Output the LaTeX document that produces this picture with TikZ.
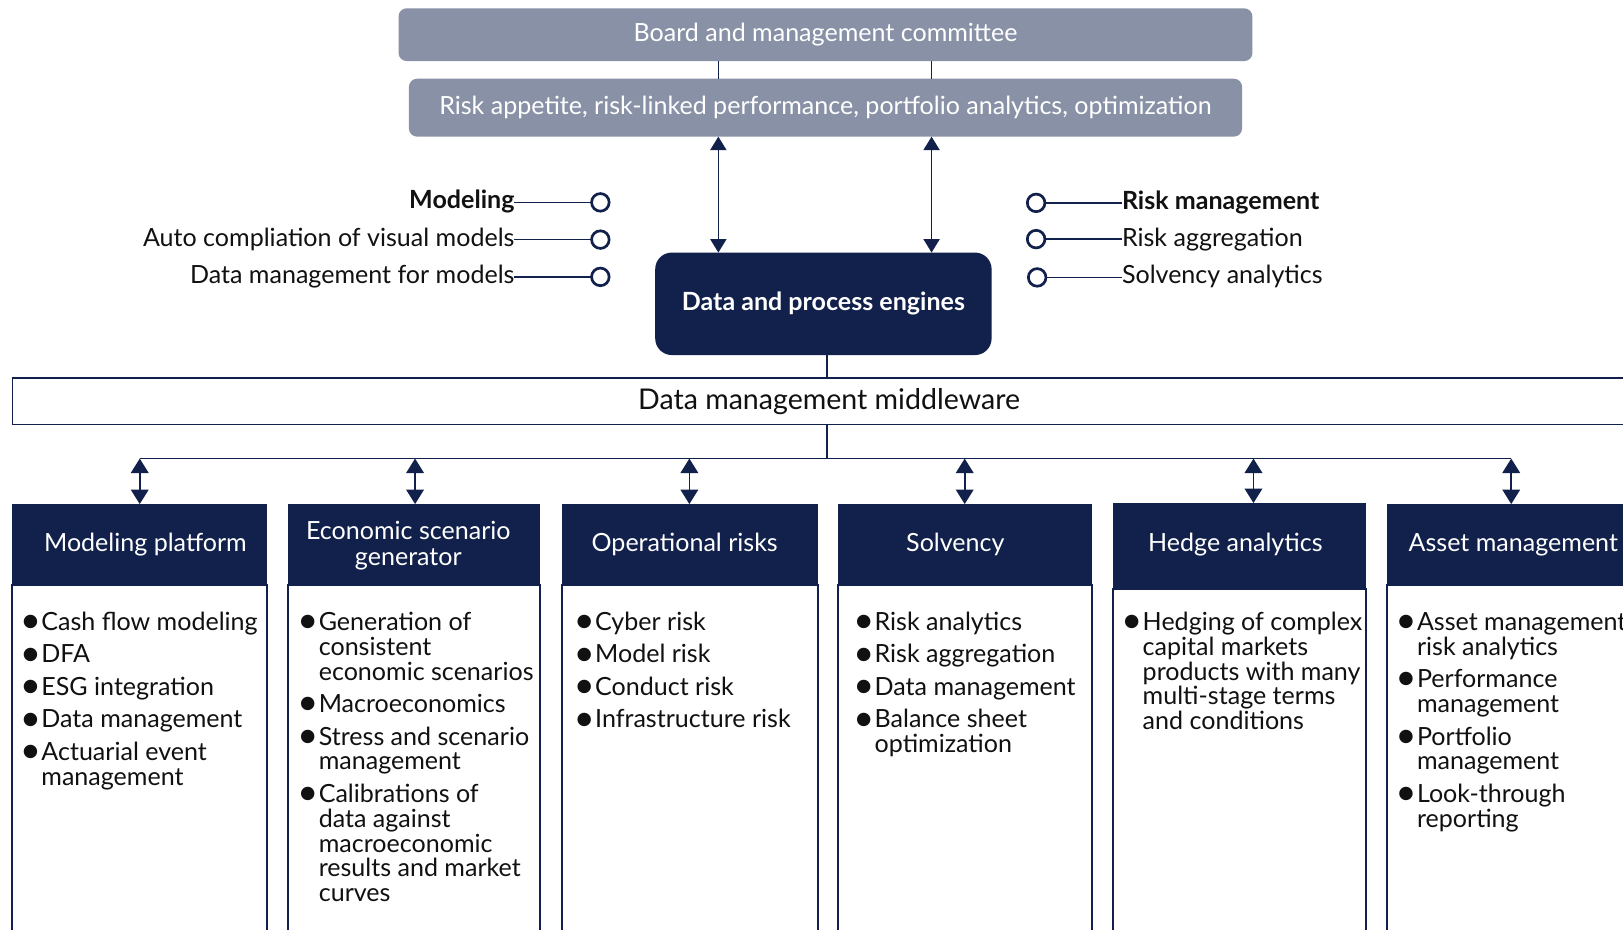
\documentclass[tikz,border=0pt]{standalone}
\usepackage{fontspec}
\setmainfont{Lato}
\newfontfamily\djv{DejaVu Sans}
\usetikzlibrary{arrows.meta}
\definecolor{navy}{HTML}{12214B}
\definecolor{slate}{HTML}{8891A6}
\definecolor{ink}{HTML}{111111}
\newcommand\bul{\makebox[18pt][l]{\raisebox{3.6pt}{\djv\fontsize{17}{17}\selectfont ●}}}
\newcommand\ind{\hspace*{18pt}}
\newcommand\gap{\\[7.4pt]}
\newcommand\firstln{\rule{0pt}{18pt}}
\begin{document}
\begin{tikzpicture}[x=1pt,y=-1pt,
  every node/.style={inner sep=0pt, outer sep=0pt},
  txt/.style={font=\fontsize{24.2}{24}\selectfont, text=ink},
  graybox/.style={fill=slate, rounded corners=8pt, text=white, font=\fontsize{24.2}{25}\selectfont},
  headbox/.style={fill=navy},
  headtxt/.style={text=white, font=\fontsize{24.2}{25}\selectfont, align=center},
  bodybox/.style={draw=navy, line width=2pt, fill=white, anchor=north},
  link/.style={draw=navy, line width=1.6pt},
  dbl/.style={link, {Triangle[length=13pt,width=15.5pt]}-{Triangle[length=13pt,width=15.5pt]}},
  dbls/.style={link, {Triangle[length=14pt,width=17pt]}-{Triangle[length=14pt,width=17pt]}},
  ring/.style={circle, draw=navy, line width=2.6pt, fill=white, minimum size=17pt},
  listtxt/.style={txt, align=left, anchor=north west},
]
\useasboundingbox (0,0) rectangle (1568,898);
\clip (0,0) rectangle (1568,898);
\fill[white] (0,0) rectangle (1568,898);

% top boxes
\node[graybox, minimum width=825pt, minimum height=51pt] (board) at (797.5,33.5) {Board and management committee};
\node[graybox, minimum width=805pt, minimum height=56pt] (appetite) at (797.5,104) {Risk appetite, risk-linked performance, portfolio analytics, optimization};
\node[fill=navy, rounded corners=16pt, minimum width=325pt, minimum height=99pt, text=white, font=\bfseries\fontsize{24.2}{25}\selectfont] (engines) at (795.5,293.5) {Data and process engines};

\coordinate (cL) at (694,0);
\coordinate (cR) at (900,0);
\draw[link] (board.south -| cL) -- (appetite.north -| cL);
\draw[link] (board.south -| cR) -- (appetite.north -| cR);
\draw[dbl] (appetite.south -| cL) -- (engines.north -| cL);
\draw[dbl] (appetite.south -| cR) -- (engines.north -| cR);

% side labels
\node[ring] (l1) at (580,195.5) {};
\node[ring] (l2) at (580,231.5) {};
\node[ring] (l3) at (580,267.5) {};
\node[txt, anchor=base east, font=\bfseries\fontsize{24.2}{25}\selectfont] (m1) at (497,201.5) {Modeling};
\node[txt, anchor=base east] (m2) at (497,238) {Auto compliation of visual models};
\node[txt, anchor=base east] (m3) at (497,274) {Data management for models};
\draw[link] (m1.east |- l1) -- (l1);
\draw[link] (m2.east |- l2) -- (l2);
\draw[link] (m3.east |- l3) -- (l3);

\node[ring] (r1) at (1001,196) {};
\node[ring] (r2) at (1001,231) {};
\node[ring] (r3) at (1002,268) {};
\node[txt, anchor=base west, font=\bfseries\fontsize{24.2}{25}\selectfont] (k1) at (1084,202) {Risk management};
\node[txt, anchor=base west] (k2) at (1084,238) {Risk aggregation};
\node[txt, anchor=base west] (k3) at (1084,274) {Solvency analytics};
\draw[link] (r1) -- (k1.west |- r1);
\draw[link] (r2) -- (k2.west |- r2);
\draw[link] (r3) -- (k3.west |- r3);

% middleware
\node[draw=navy, line width=1.5pt, fill=white, minimum width=1578pt, minimum height=45pt, txt, font=\fontsize{27.6}{28}\selectfont] (mw) at (801,387.5) {Data management middleware};
\coordinate (cM) at (799,0);
\draw[link] (engines.south -| cM) -- (mw.north -| cM);
\coordinate (bus) at (799,443);
\coordinate (busL) at (135,443);
\coordinate (busR) at (1460,443);
\draw[link] (mw.south -| cM) -- (bus);
\draw[link] (busL) -- (busR);

% columns: bodies
\node[bodybox, minimum width=246pt, minimum height=360pt] (b1) at (135,565) {};
\node[bodybox, minimum width=244pt, minimum height=360pt] (b2) at (400,565) {};
\node[bodybox, minimum width=247pt, minimum height=360pt] (b3) at (666.5,565) {};
\node[bodybox, minimum width=245pt, minimum height=360pt] (b4) at (932.5,565) {};
\node[bodybox, minimum width=245pt, minimum height=360pt] (b5) at (1197.5,569) {};
\node[bodybox, minimum width=246pt, minimum height=360pt] (b6) at (1463,565) {};
% headers
\node[headbox, minimum width=246pt, minimum height=78pt] (h1) at (135,526) {};
\node[headbox, minimum width=244pt, minimum height=78pt] (h2) at (400,526) {};
\node[headbox, minimum width=247pt, minimum height=78pt] (h3) at (666.5,526) {};
\node[headbox, minimum width=245pt, minimum height=78pt] (h4) at (932.5,526) {};
\node[headbox, minimum width=245pt, minimum height=83pt] (h5) at (1197.5,527.5) {};
\node[headbox, minimum width=246pt, minimum height=78pt] (h6) at (1463,526) {};
\node[headtxt] (ht1) at (140.5,526) {Modeling platform};
\node[headtxt] (ht2) at (394.5,527) {Economic scenario\\generator};
\node[headtxt] (ht3) at (661.5,526) {Operational risks};
\node[headtxt] (ht4) at (923,526) {Solvency};
\node[headtxt] (ht5) at (1193.5,526) {Hedge analytics};
\node[headtxt] (ht6) at (1462,526) {Asset management};

% arrows to columns
\coordinate (a1) at (135,0);
\coordinate (a2) at (401,0);
\coordinate (a3) at (666,0);
\coordinate (a4) at (932,0);
\coordinate (a5) at (1211,0);
\coordinate (a6) at (1460,0);
\foreach \i in {1,...,6} {
  \draw[dbls] (bus -| a\i) -- (h\i.north -| a\i);
}

% lists
\node[listtxt] (t1) at (22,591) {\firstln\bul Cash flow modeling\gap \bul DFA\gap \bul ESG integration\gap \bul Data management\gap \bul Actuarial event\\ \ind management};
\node[listtxt] (t2) at (290,591) {\firstln\bul Generation of\\ \ind consistent\\ \ind economic scenarios\gap \bul Macroeconomics\gap \bul Stress and scenario\\ \ind management\gap \bul Calibrations of\\ \ind data against\\ \ind macroeconomic\\ \ind results and market\\ \ind curves};
\node[listtxt] (t3) at (557,591) {\firstln\bul Cyber risk\gap \bul Model risk\gap \bul Conduct risk\gap \bul Infrastructure risk};
\node[listtxt] (t4) at (827,591) {\firstln\bul Risk analytics\gap \bul Risk aggregation\gap \bul Data management\gap \bul Balance sheet\\ \ind optimization};
\node[listtxt] (t5) at (1086,591) {\firstln\bul Hedging of complex\\ \ind capital markets\\ \ind products with many\\ \ind multi-stage terms\\ \ind and conditions};
\node[listtxt] (t6) at (1351,591) {\firstln\bul Asset management\\ \ind risk analytics\gap \bul Performance\\ \ind management\gap \bul Portfolio\\ \ind management\gap \bul Look-through\\ \ind reporting};
\end{tikzpicture}
\end{document}
